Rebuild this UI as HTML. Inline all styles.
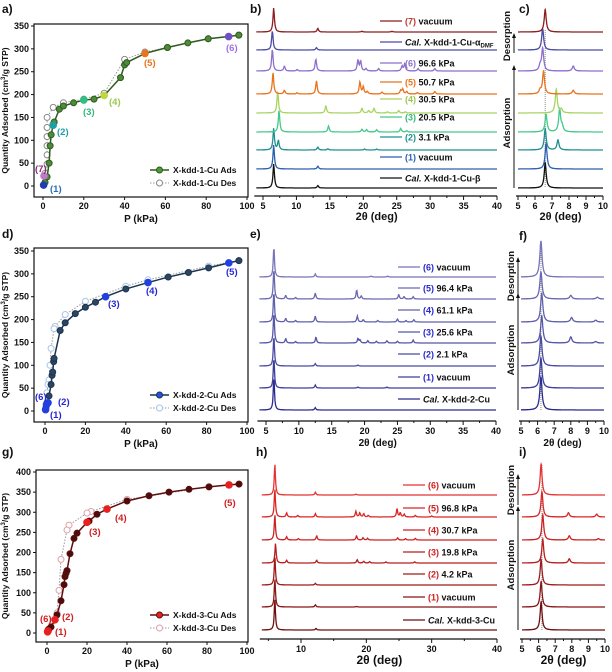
<!DOCTYPE html>
<html><head><meta charset="utf-8"><style>
body{margin:0;background:#fff}
svg{display:block;font-family:"Liberation Sans",sans-serif;font-weight:bold}
</style></head><body>
<svg id="fig" width="612" height="672" viewBox="0 0 612 672" xmlns="http://www.w3.org/2000/svg"></svg>
<script>
// ===== Isotherm data =====
const aAdsX=[0.3,1,2,3,3.5,4,5,5.5,8,10,15,20,25,30,38,40,41,50,61,71,81,91,96];
const aAdsY=[2,8,20,50,88,112,135,140,168,175,182,188,190,198,237,265,270,290,303,313,322,327,330];
const aDesX=[96,81,61,50,40,30,20,10,5,2,2,2,2,2,2,1,0.5];
const aDesY=[330,322,303,293,277,203,190,182,172,150,128,108,88,68,48,28,22];
const dAdsX=[0.2,0.5,1,2,3,3.5,3.8,4.3,4.5,7.5,10,15,20,25,30,40,51,61,71,81,91,96];
const dAdsY=[3,8,15,33,58,78,85,108,115,176,193,213,227,238,250,267,281,293,303,313,324,329];
const dDesX=[96,81,51,40,20,10,5,4.5,3,2.5,2,1.5,1,0.5];
const dDesY=[329,317,287,273,240,211,185,180,137,100,68,58,40,15];
const gAdsX=[0.3,0.5,1,2,4,5,7,8.5,9,9.5,10,11.5,13.5,15,20,21,25,30,40,51,61,71,81,91,96];
const gAdsY=[3,7,10,15,33,45,80,120,140,148,155,197,235,248,275,278,295,308,328,341,350,357,363,368,370];
const gDesX=[96,81,40,22,20,11,10,7,6,5,3,0.5];
const gDesY=[370,363,332,302,298,268,256,183,106,50,30,8];
const aHiX=[0.3,5,20,30,50,91,0.5], aHiY=[2,133,188,198,290,327,22];
const dHiX=[0.3,1.5,30,51,91,0.8], dHiY=[3,18,250,281,324,14];
const gHiX=[0.3,4,20,30,91,0.5], gHiY=[3,33,275,308,368,5];
const isoXTicks=[0,20,40,60,80,100];
const abYTicks=[0,50,100,150,200,250,300,350];
const gYTicks=[0,50,100,150,200,250,300,350,400];

// ===== XRD data (peak positions / intensities, bottom trace first) =====
const bLabels=["Cal. X-kdd-1-Cu-β","(1) vacuum","(2) 3.1 kPa","(3) 20.5 kPa","(4) 30.5 kPa","(5) 50.7 kPa","(6) 96.6 kPa","Cal. X-kdd-1-Cu-αDMF","(7) vacuum"];
const bPos=[[6.6,13.2],[6.6,13.2],[6.6,7.3,13.2,14.7,20.2,22],[7.4,14.8,19.8,20.5,22,25.6,26.5],[7.2,14.4,19.8,20.8,21.6,23.6,25.3,26.3],[6.5,8.2,10.1,13,19.5,20,20.6,22.8,25.6,25.9,26.5,28.1,30.7],[6.4,8.2,10.1,12.9,19.2,19.6,20.4,22.3,25.8,26.2,28.2,30.7],[6.4,13],[6.6,13.2,19.8,24.3]];
const bInt=[[1,0.1],[1,0.12],[0.9,0.4,0.12,0.05,0.04,0.04],[0.9,0.25,0.12,0.1,0.1,0.15,0.05],[0.9,0.3,0.2,0.1,0.2,0.05,0.1,0.05],[0.9,0.15,0.05,0.55,0.5,0.3,0.1,0.08,0.15,0.2,0.1,0.06,0.1],[0.9,0.2,0.06,0.5,0.45,0.4,0.1,0.1,0.2,0.3,0.1,0.1],[0.8,0.1],[1,0.15,0.03,0.03]];
const cPos=[[6.6],[6.65],[6.6,7.35],[6.65,7.45,7.6],[7.25,7.55],[6.5,6.3,8.25],[6.45,6.3,8.25],[6.45],[6.6]];
const cInt=[[1],[1],[0.85,0.4],[0.7,0.9,0.2],[0.95,0.15],[0.9,0.15,0.15],[0.9,0.2,0.2],[0.85],[0.9]];
const bColors=["#111111","#2b5fb0","#1f8f8f","#45c98a","#a8d462","#e8741e","#8d6fcc","#4b4ba8","#8b1d1d"];
const bNumColors=["#111","#2b5fb0","#1f8f8f","#35b87a","#9cc850","#e8741e","#8d6fcc","#4b4ba8","#c0392b"];

const eLabels=["Cal. X-kdd-2-Cu","(1) vacuum","(2) 2.1 kPa","(3) 25.6 kPa","(4) 61.1 kPa","(5) 96.4 kPa","(6) vacuum"];
const ePos=[[6.2,12.5],[6.2,12.5,19,23.4],[6.2,12.5,19],[6.2,8,9.5,12.6,19,19.3,20.5,21.8,23.4,25,27.4],[6.2,8,9.5,12.5,18.9,19.8,22,25,26.3,27.5],[6.2,8,9.5,12.5,18.8,19.5,25.2,26,27.4],[6.2,12.5,21,23.5]];
const eInt=[[1.1,0.08],[1,0.1,0.03,0.03],[1,0.08,0.03],[1,0.15,0.05,0.2,0.15,0.1,0.08,0.06,0.08,0.06,0.1],[1,0.12,0.05,0.2,0.2,0.08,0.05,0.1,0.05,0.08],[1,0.12,0.05,0.2,0.3,0.1,0.15,0.08,0.08],[1,0.1,0.03,0.03]];
const fPos=[[6.2],[6.2],[6.2],[6.25,8,9.5],[6.25,8.05,9.5],[6.2,8,9.6],[6.2]];
const fInt=[[1.1],[1],[1],[0.9,0.2,0.05],[0.95,0.15,0.06],[0.9,0.12,0.06],[1.2]];
const eColors=["#2a2a90","#3d3d9c","#4a4aa4","#5656a8","#6060ac","#6a68b0","#7874b8"];

const hLabels=["Cal. X-kdd-3-Cu","(1) vacuum","(2) 4.2 kPa","(3) 19.8 kPa","(4) 30.7 kPa","(5) 96.8 kPa","(6) vacuum"];
const hPos=[[6.0,12.3],[6.0,12.2,18.5],[6.0,12.2],[6.1,7.8,12.4,18.6,19.6,20.5,23,27.4],[6.0,7.8,9.6,12.4,18.5,19.5,20.2,24.8,26,27.5],[6.0,7.8,9.5,12.2,18.4,19,19.6,20.3,24.7,25.2,25.8,27.5,30],[6.0,12.2,18.4]];
const hInt=[[1.1,0.06],[1,0.08,0.02],[1,0.06],[0.7,0.1,0.1,0.12,0.06,0.05,0.04,0.04],[0.9,0.12,0.05,0.15,0.15,0.08,0.06,0.08,0.05,0.06],[1,0.15,0.06,0.12,0.2,0.15,0.12,0.06,0.3,0.15,0.1,0.06,0.04],[1.1,0.1,0.03]];
const iPos=[[6.15],[6.15],[6.15],[6.25,7.85],[6.25,7.85,9.6],[6.2,7.8,9.5],[6.15]];
const iInt=[[1],[0.9],[0.9],[0.85,0.15],[0.9,0.15,0.05],[0.9,0.15,0.1],[1.1]];
const hColors=["#6e0e0e","#8a1414","#9e1a1a","#b81e1e","#cc2222","#dc2626","#e83030"];

const NS="http://www.w3.org/2000/svg";
const svg=document.getElementById("fig");
function el(tag,attrs,parent){const e=document.createElementNS(NS,tag);for(const k in attrs)e.setAttribute(k,attrs[k]);(parent||svg).appendChild(e);return e;}
function txt(s,x,y,size,opt,parent){opt=opt||{};const t=el("text",{x:x,y:y,"font-size":size,fill:opt.fill||"#111","text-anchor":opt.anchor||"start"},parent);if(opt.rot)t.setAttribute("transform","rotate(-90 "+x+" "+y+")");if(opt.italic)t.setAttribute("font-style","italic");t.textContent=s;return t;}

function panelLetter(s,x,y){const t=txt(s,x,y,12);

}

// ===== Isotherm panel =====
function iso(p){
  const g=el("g",{});
  
  
  const sx=v=>p.x0+(p.x100-p.x0)*v/100;
  const sy=v=>p.y0-(p.y0-p.yTopPx)*v/p.yTopVal;
  el("rect",{x:p.L,y:p.T,width:p.R-p.L,height:p.B-p.T,fill:"none",stroke:"#111","stroke-width":1.2},g);
  isoXTicks.forEach(v=>{const x=sx(v);el("line",{x1:x,x2:x,y1:p.B,y2:p.B+3,stroke:"#111"},g);txt(String(v),x,p.B+12,9,{anchor:"middle"},g);});
  p.yTicks.forEach(v=>{const y=sy(v);el("line",{x1:p.L-3,x2:p.L,y1:y,y2:y,stroke:"#111"},g);txt(String(v),p.L-5,y+3,9,{anchor:"end"},g);});
  txt("P (kPa)",(p.L+p.R)/2,p.B+25,10,{anchor:"middle"},g);
  const yt=txt("",8,(p.T+p.B)/2,8.5,{anchor:"middle",rot:true},g);yt.innerHTML="Quantity Adsorbed (cm<tspan dy='-3' font-size='6'>3</tspan><tspan dy='3'>/g STP)</tspan>";
  
  
  const dpts=p.desX.map((x,i)=>sx(x)+","+sy(p.desY[i])).join(" ");
  el("polyline",{points:dpts,fill:"none",stroke:"#999","stroke-width":1,"stroke-dasharray":"1.5,1.5"},g);
  p.desX.forEach((x,i)=>{const c=el("circle",{cx:sx(x),cy:sy(p.desY[i]),r:3,fill:"#fff",stroke:p.desC,"stroke-width":1},g);
    
    });
  const apts=p.adsX.map((x,i)=>sx(x)+","+sy(p.adsY[i])).join(" ");
  el("polyline",{points:apts,fill:"none",stroke:p.lineC,"stroke-width":1.5},g);
  p.adsX.forEach((x,i)=>{const c=el("circle",{cx:sx(x),cy:sy(p.adsY[i]),r:3,fill:p.fillC,stroke:p.lineC,"stroke-width":1},g);
    
    });
  p.hiX.forEach((x,i)=>{el("circle",{cx:sx(x),cy:sy(p.hiY[i]),r:3.3,fill:p.hiC[i],stroke:p.hiC[i]},g);});
  p.labels.forEach(l=>txt(l[0],l[1],l[2],9.5,{fill:l[3]},g));
  const lx=150,ly1=p.B-27,ly2=p.B-14;
  const le1=el("g",{},g);
  
  
  el("line",{x1:lx,x2:lx+19,y1:ly1,y2:ly1,stroke:p.lineC,"stroke-width":1.5},le1);
  el("circle",{cx:lx+9.5,cy:ly1,r:3,fill:p.legFill,stroke:p.lineC},le1);
  txt(p.legA,lx+23,ly1+3,8.5,{},le1);
  const le2=el("g",{},g);
  
  
  el("line",{x1:lx,x2:lx+19,y1:ly2,y2:ly2,stroke:"#999","stroke-dasharray":"1.5,1.5"},le2);
  el("circle",{cx:lx+9.5,cy:ly2,r:3,fill:"#fff",stroke:p.desC},le2);
  txt(p.legD,lx+23,ly2+3,8.5,{},le2);
}

// ===== XRD panel =====
function pattern(pos,inten,xmin,xmax,gamma){
  const out=[];const n=500;
  for(let k=0;k<=n;k++){const x=xmin+(xmax-xmin)*k/n;let y=0;
    for(let j=0;j<pos.length;j++){const d=(x-pos[j])/gamma;y+=inten[j]/(1+d*d);}
    out.push([x,y]);}
  return out;
}
function xrd(p){
  const g=el("g",{});
  
  
  const sx=v=>p.pxA+(p.pxB-p.pxA)*(v-p.vA)/(p.vB-p.vA);
  el("line",{x1:sx(p.xmin)-2,x2:sx(p.xmax),y1:p.axisY,y2:p.axisY,stroke:"#111","stroke-width":1.2},g);
  for(let v=Math.ceil(p.xmin/p.minor)*p.minor;v<=p.xmax+1e-9;v+=p.minor){
    const isMaj=Math.abs(v/p.major-Math.round(v/p.major))<1e-6;
    el("line",{x1:sx(v),x2:sx(v),y1:p.axisY,y2:p.axisY+(isMaj?4:2),stroke:"#111"},g);
    if(isMaj&&v>=p.labMin)txt(String(Math.round(v)),sx(v),p.axisY+13,9,{anchor:"middle"},g);
  }
  const tt=txt("",(sx(p.xmin)+sx(p.xmax))/2,p.axisY+p.titleDy,p.titleSize,{anchor:"middle"},g);
  tt.textContent="2θ (deg)";
  
  
  if(p.dotX!==undefined)el("line",{x1:sx(p.dotX),x2:sx(p.dotX),y1:p.dotTop,y2:p.base[0],stroke:"#888","stroke-dasharray":"1,1"},g);
  p.pos.forEach((pk,i)=>{
    const pts=pattern(pk,p.inten[i],p.xmin,p.xmax,p.gamma).map(q=>sx(q[0]).toFixed(1)+","+(p.base[i]-p.amp*q[1]).toFixed(1)).join(" ");
    const pl=el("polyline",{points:pts,fill:"none",stroke:p.colors[i],"stroke-width":1.3},g);
    
    
  });
  if(p.legY){p.labels.forEach((s,i)=>{
    const y=p.legY[i];const lg=el("g",{},g);
    
    
    el("line",{x1:p.legX,x2:p.legX+22,y1:y,y2:y,stroke:p.colors[i],"stroke-width":1.3},lg);
    const t=txt("",p.legX+25,y+3.5,9,{},lg);
    if(s.startsWith("Cal.")){const rest=s.slice(4);
      t.innerHTML="<tspan font-style='italic'>Cal.</tspan>"+(rest.endsWith("αDMF")?rest.replace("αDMF","α<tspan font-size='6' dy='2'>DMF</tspan>"):rest);}
    else{const m=s.indexOf(")")+1;t.innerHTML="<tspan fill='"+p.numColors[i]+"'>"+s.slice(0,m)+"</tspan>"+s.slice(m);}
  });}
  if(p.arrows){p.arrows.forEach(a=>{
    el("line",{x1:a.x,x2:a.x,y1:a.y2,y2:a.y1+4,stroke:"#111","stroke-width":1},g);
    el("polygon",{points:(a.x-2)+","+(a.y1+5)+" "+(a.x+2)+","+(a.y1+5)+" "+a.x+","+a.y1,fill:"#111"},g);
    const t=txt(a.t,a.x-4,a.tc,9.5,{anchor:"middle",rot:true},g);
    
    
  });}
}

panelLetter("a)",2,13);panelLetter("b)",250,13);panelLetter("c)",519,13);
panelLetter("d)",2,238);panelLetter("e)",250,238);panelLetter("f)",519,240);
panelLetter("g)",2,456);panelLetter("h)",256,456);panelLetter("i)",519,456);

iso({name:"isotherm-a",L:34,R:248,T:24,B:197,x0:43,x100:247,y0:186,yTopVal:350,yTopPx:26,yTicks:abYTicks,
  adsX:aAdsX,adsY:aAdsY,desX:aDesX,desY:aDesY,lineC:"#2e5a1c",fillC:"#4d8a3a",legFill:"#4d9a3a",desC:"#888",
  hiX:aHiX,hiY:aHiY,hiC:["#1f3fb0","#1fa0a0","#2ec080","#c0d840","#e8741e","#7050c8","#c078c8"],
  labels:[["(1)",50,192,"#2b6fb0"],["(2)",57,135,"#1f9fa8"],["(3)",83,115,"#35b87a"],["(4)",109,105,"#9cc850"],["(5)",144,66,"#e8741e"],["(6)",226,51,"#a070e0"],["(7)",35,172,"#8a2a7a"]],
  legA:"X-kdd-1-Cu Ads",legD:"X-kdd-1-Cu Des"});
iso({name:"isotherm-d",L:34,R:248,T:248,B:422,x0:45,x100:247,y0:411,yTopVal:350,yTopPx:251,yTicks:abYTicks,
  adsX:dAdsX,adsY:dAdsY,desX:dDesX,desY:dDesY,lineC:"#1a3550",fillC:"#2c4560",legFill:"#2850e0",desC:"#a8c4e8",
  hiX:dHiX,hiY:dHiY,hiC:["#2040e0","#2040e0","#2040e0","#2040e0","#2040e0","#2040e0"],
  labels:[["(6)",35,400,"#2828d0"],["(2)",58,405,"#2828d0"],["(1)",50,418,"#2828d0"],["(3)",108,307,"#2828d0"],["(4)",146,294,"#2828d0"],["(5)",226,275,"#2828d0"]],
  legA:"X-kdd-2-Cu Ads",legD:"X-kdd-2-Cu Des"});
iso({name:"isotherm-g",L:36,R:248,T:470,B:642,x0:47,x100:247,y0:633,yTopVal:400,yTopPx:472,yTicks:gYTicks,
  adsX:gAdsX,adsY:gAdsY,desX:gDesX,desY:gDesY,lineC:"#5e0e0e",fillC:"#4a0c0c",legFill:"#e82020",desC:"#e0a0a8",
  hiX:gHiX,hiY:gHiY,hiC:["#e82020","#e82020","#e82020","#e82020","#e82020","#e82020"],
  labels:[["(6)",40,622,"#d02020"],["(2)",62,620,"#d02020"],["(1)",55,635,"#d02020"],["(3)",89,535,"#d02020"],["(4)",115,521,"#d02020"],["(5)",224,506,"#d02020"]],
  legA:"X-kdd-3-Cu Ads",legD:"X-kdd-3-Cu Des"});

const bBase=[188,169,150,132,113,94,71,50,32];
xrd({name:"xrd-b",pxA:263,vA:5,pxB:497,vB:40,xmin:4,xmax:40,minor:2.5,major:5,labMin:5,axisY:196,titleDy:24,titleSize:11,
  pos:bPos,inten:bInt,base:bBase,amp:24,gamma:0.13,colors:bColors,labels:bLabels,numColors:bNumColors,
  legX:380,legY:[178,157,137,117,99,82,63,42,21]});
xrd({name:"xrd-c",pxA:518,vA:5,pxB:603,vB:10,xmin:5,xmax:10,minor:0.5,major:1,labMin:5,axisY:196,titleDy:24,titleSize:11,
  pos:cPos,inten:cInt,base:bBase,amp:25,gamma:0.07,colors:bColors,dotX:6.6,dotTop:30,
  arrows:[{x:514,y1:33,y2:53,t:"Desorption",tc:36},{x:514,y1:65,y2:188,t:"Adsorption",tc:123}]});

const eBase=[410,388,366,343,322,299,277];
xrd({name:"xrd-e",pxA:266,vA:5,pxB:496,vB:40,xmin:4,xmax:40,minor:2.5,major:5,labMin:5,axisY:421,titleDy:25,titleSize:10,
  pos:ePos,inten:eInt,base:eBase,amp:30,gamma:0.11,colors:eColors,labels:eLabels,numColors:Array(7).fill("#2828d0"),
  legX:398,legY:[399,377,354,332,310,288,267]});
xrd({name:"xrd-f",pxA:521,vA:5,pxB:604,vB:10,xmin:5,xmax:10,minor:0.5,major:1,labMin:5,axisY:421,titleDy:25,titleSize:10,
  pos:fPos,inten:fInt,base:eBase,amp:30,gamma:0.08,colors:eColors,dotX:6.2,dotTop:245,
  arrows:[{x:518,y1:257,y2:295,t:"Desorption",tc:276},{x:518,y1:293,y2:410,t:"Adsorption",tc:350}]});

const hBase=[630,607,585,563,540,517,495];
xrd({name:"xrd-h",pxA:301,vA:10,pxB:497,vB:40,xmin:4,xmax:40,minor:5,major:10,labMin:10,axisY:639,titleDy:25,titleSize:12,
  pos:hPos,inten:hInt,base:hBase,amp:28,gamma:0.11,colors:hColors,labels:hLabels,numColors:Array(7).fill("#d02020"),
  legX:403,legY:[620,597,574,552,530,508,485]});
xrd({name:"xrd-i",pxA:522,vA:5,pxB:605,vB:10,xmin:5,xmax:10,minor:0.5,major:1,labMin:5,axisY:639,titleDy:25,titleSize:12,
  pos:iPos,inten:iInt,base:hBase,amp:28,gamma:0.07,colors:hColors,dotX:6.2,dotTop:465,
  arrows:[{x:518,y1:474,y2:505,t:"Desorption",tc:490},{x:518,y1:506,y2:630,t:"Adsorption",tc:565}]});
</script>
</body></html>
